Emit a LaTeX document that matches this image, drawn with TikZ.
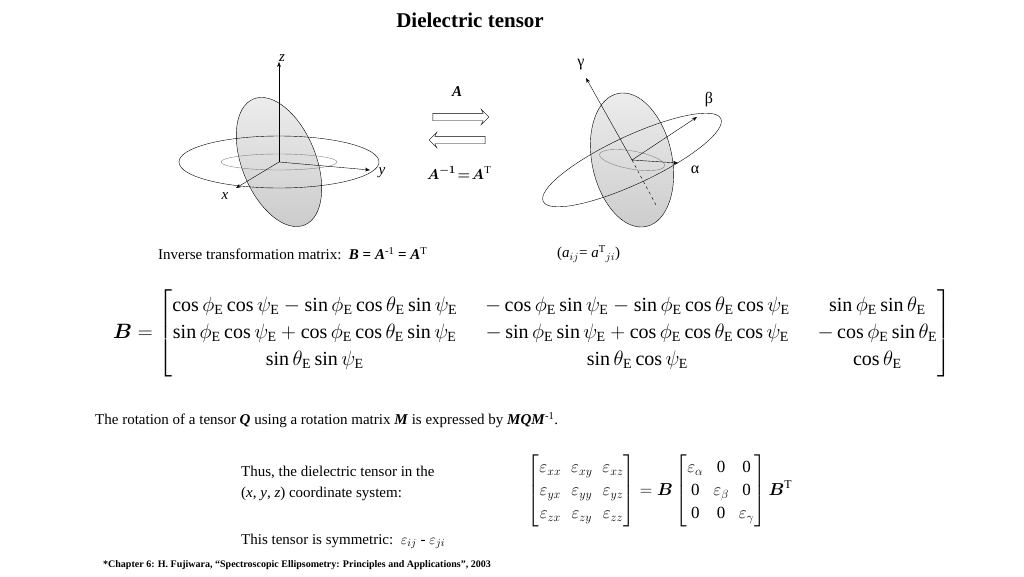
\documentclass[tikz,border=0pt]{standalone}
\usepackage{amsmath}
\usepackage{fontspec}
\setmainfont{Liberation Serif}
\usetikzlibrary{arrows.meta,shapes.arrows}
\newcommand{\txt}[1]{\fontsize{#1}{#1}\selectfont}
\newcommand{\cE}{\cos\phi_{\mathrm E}}
\newcommand{\sE}{\sin\phi_{\mathrm E}}
\newcommand{\cT}{\cos\theta_{\mathrm E}}
\newcommand{\sT}{\sin\theta_{\mathrm E}}
\newcommand{\cP}{\cos\psi_{\mathrm E}}
\newcommand{\sP}{\sin\psi_{\mathrm E}}
\begin{document}
\begin{tikzpicture}[x=1pt,y=-1pt,>={Stealth[length=5pt]},
    body/.style={font=\txt{15},anchor=west,inner sep=0pt},
    axis/.style={->,thin},
    ring/.style={draw,thin},
    ellip/.style={draw,thin,top color=gray!15,bottom color=gray!40},
    hollow/.style={single arrow,draw,thin,minimum height=56pt,
      single arrow head extend=4pt,single arrow head indent=2pt,
      inner xsep=1pt,inner ysep=3.5pt,font=\txt{2}}]
  \useasboundingbox (0,0) rectangle (1024,576);
  \node[font=\bfseries\txt{21}] (title) at (470,20) {Dielectric tensor};

  % left ellipsoid
  \coordinate (o1) at (279,162);
  \draw[ellip,rotate around={22:(o1)}] (o1) ellipse (37 and 68);
  \draw[thin,gray] (o1) ellipse (58 and 8);
  \draw[ring] (o1) ellipse (100 and 26);
  \coordinate (z1) at (279,62);
  \coordinate (y1) at (370,170);
  \coordinate (x1) at (236,188);
  \draw[axis] (o1) -- (z1);
  \draw[axis] (o1) -- (y1);
  \draw[axis] (o1) -- (x1);
  \node[font=\itshape\txt{15}] (zl) at (282,58) {z};
  \node[font=\itshape\txt{15}] (yl) at (382,173) {y};
  \node[font=\itshape\txt{15}] (xl) at (225,196) {x};

  % transformation arrows
  \node[hollow] (fwd) at (459,117) {};
  \node[hollow,shape border rotate=180] (bwd) at (459,140) {};
  \node[font=\bfseries\itshape\txt{15}] (al) at (457,92) {A};
  \node[font=\txt{15}] (ainv) at (459,173) {$\boldsymbol{A}^{\boldsymbol{-1}}\!\boldsymbol{=}\!\boldsymbol{A}^{\mathrm T}$};

  % right ellipsoid
  \coordinate (o2) at (632,160);
  \draw[ellip,rotate around={12:(o2)}] (o2) ellipse (40 and 68);
  \draw[thin,gray,rotate around={-10:(o2)}] (o2) ellipse (33 and 9);
  \draw[thin,dashed] (o2) -- (656,205);
  \draw[ring,rotate around={25:(o2)}] (o2) ellipse (98 and 24);
  \coordinate (g2) at (586,78);
  \coordinate (b2) at (697,117);
  \coordinate (a2) at (678,163);
  \draw[axis] (o2) -- (g2);
  \draw[axis] (o2) -- (b2);
  \draw[axis] (o2) -- (a2);
  \node[font=\txt{16}] (gl) at (581,65) {γ};
  \node[font=\txt{16}] (bl) at (709,100) {β};
  \node[font=\txt{16}] (alp) at (695,170) {α};

  % inverse matrix text
  \node[body] (inv) at (158,254) {Inverse transformation matrix:\enspace
    \textbf{\textit{B}} \textbf{=} \textbf{\textit{A}}\textsuperscript{-1} \textbf{=} \textbf{\textit{A}}\textsuperscript{T}};
  \node[body] (aij) at (557,254) {(\textit{a}$_{ij}$= \textit{a}$^{\mathrm T}{}_{ji}$)};

  \node[font=\txt{20},inner sep=0pt] (bmat) at (532,333) {\renewcommand{\arraystretch}{1.35}\setlength{\arraycolsep}{14pt}$
    \boldsymbol{B}=\begin{bmatrix}
    \cE\cP-\sE\cT\sP & -\cE\sP-\sE\cT\cP & \sE\sT\\
    \sE\cP+\cE\cT\sP & -\sE\sP+\cE\cT\cP & -\cE\sT\\
    \sT\sP & \sT\cP & \cT
    \end{bmatrix}$};

  \node[body] (rot) at (95,420) {The rotation of a tensor \textbf{\textit{Q}} using a rotation matrix
    \textbf{\textit{M}} is expressed by \textbf{\textit{MQM}}\textsuperscript{-1}.};
  \node[body,align=left] (thus) at (241,483) {Thus, the dielectric tensor in the\\[6pt]
    (\textit{x}, \textit{y}, \textit{z}) coordinate system:};
  \node[font=\txt{17},inner sep=0pt] (eps) at (660,491) {\renewcommand{\arraystretch}{1.35}$
    \begin{bmatrix}
    \varepsilon_{xx} & \varepsilon_{xy} & \varepsilon_{xz}\\
    \varepsilon_{yx} & \varepsilon_{yy} & \varepsilon_{yz}\\
    \varepsilon_{zx} & \varepsilon_{zy} & \varepsilon_{zz}
    \end{bmatrix}=\boldsymbol{B}
    \begin{bmatrix}
    \varepsilon_{\alpha} & \mathrm{0} & \mathrm{0}\\
    \mathrm{0} & \varepsilon_{\beta} & \mathrm{0}\\
    \mathrm{0} & \mathrm{0} & \varepsilon_{\gamma}
    \end{bmatrix}\boldsymbol{B}^{\mathrm T}$};
  \node[body] (sym) at (241,541) {This tensor is symmetric:\enspace $\varepsilon_{ij}$ - $\varepsilon_{ji}$};
  \node[body,font=\bfseries\txt{10}] (ref) at (103,565) {*Chapter 6: H. Fujiwara,
    “Spectroscopic Ellipsometry: Principles and Applications”, 2003};
\end{tikzpicture}
\end{document}
